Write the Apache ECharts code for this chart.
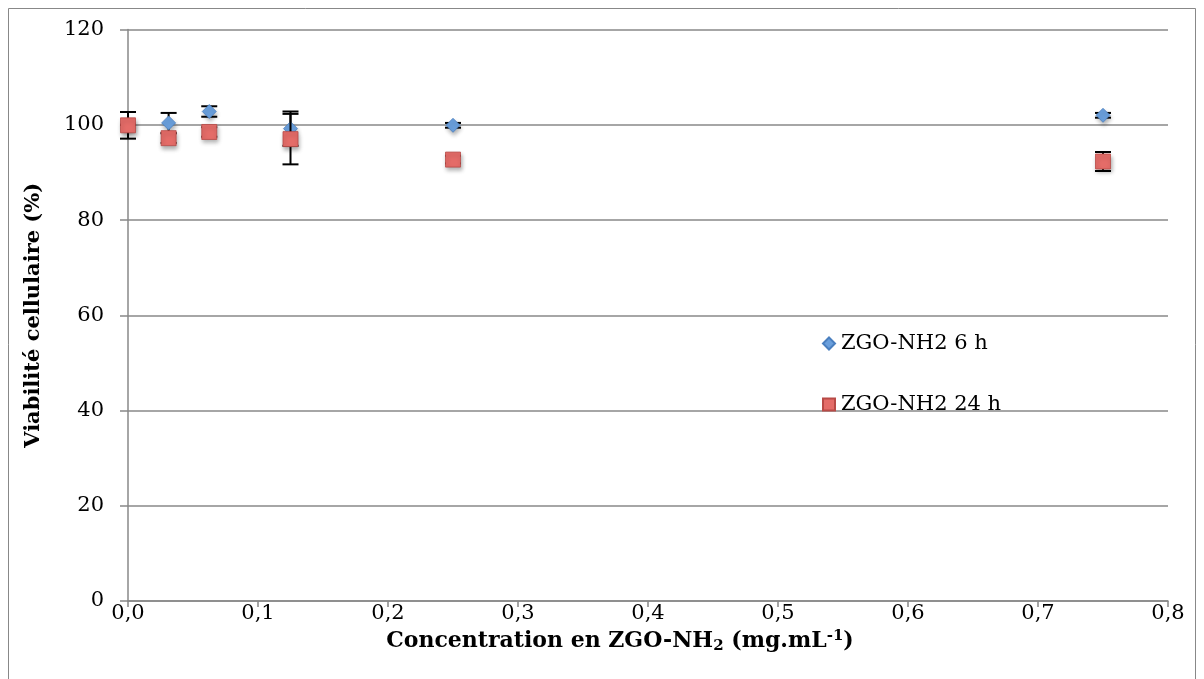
<!DOCTYPE html>
<html><head><meta charset="utf-8">
<script src="https://cdn.jsdelivr.net/npm/echarts@6/dist/echarts.min.js"></script>
<style>html,body{margin:0;padding:0;background:#fff}#c{width:1204px;height:679px}</style>
</head><body><div id="c"></div>
<script>
var concentrations = [0, 0.03125, 0.0625, 0.125, 0.25, 0.75];
var viab6h = [100.0, 100.4, 102.8, 99.2, 99.9, 102.0];
var err6h = [0.0, 2.1, 1.1, 3.6, 0.5, 0.5];
var viab24h = [99.9, 97.2, 98.5, 97.0, 92.7, 92.3];
var err24h = [2.8, 1.0, 1.0, 5.3, 0.8, 2.0];
var seriesNames = ['ZGO-NH2 6 h', 'ZGO-NH2 24 h'];

var FONT = 'DejaVu Serif';
function pts(ys) { return concentrations.map(function (x, i) { return [x, ys[i]]; }); }
function errData(ys, es) { return concentrations.map(function (x, i) { return [x, ys[i] - es[i], ys[i] + es[i]]; }); }
function errRender(params, api) {
  var x = api.value(0);
  var lo = api.coord([x, api.value(1)]);
  var hi = api.coord([x, api.value(2)]);
  var hw = 8;
  var st = { stroke: '#000', lineWidth: 2 };
  return { type: 'group', children: [
    { type: 'line', shape: { x1: lo[0], y1: lo[1], x2: hi[0], y2: hi[1] }, style: st },
    { type: 'line', shape: { x1: lo[0] - hw, y1: lo[1], x2: lo[0] + hw, y2: lo[1] }, style: st },
    { type: 'line', shape: { x1: hi[0] - hw, y1: hi[1], x2: hi[0] + hw, y2: hi[1] }, style: st }
  ]};
}
var shadow = { opacity: 1, shadowBlur: 4, shadowOffsetX: 1, shadowOffsetY: 3, shadowColor: 'rgba(0,0,0,0.3)' };

var chart = echarts.init(document.getElementById('c'));
chart.setOption({
  animation: false,
  backgroundColor: '#fff',
  grid: { left: 128, right: 36, top: 29.6, bottom: 78 },
  graphic: [{ type: 'rect', shape: { x: 8.5, y: 8.5, width: 1187, height: 700 }, style: { fill: 'none', stroke: '#888', lineWidth: 1 }, silent: true }],
  legend: {
    orient: 'vertical', left: 817, top: 328, itemGap: 40, itemWidth: 12, itemHeight: 12,
    textStyle: { fontFamily: FONT, fontSize: 21, color: '#000', padding: [0, 0, 0, 1] },
    data: [{ name: seriesNames[0], icon: 'diamond' }, { name: seriesNames[1], icon: 'rect' }]
  },
  xAxis: {
    type: 'value', min: 0, max: 0.8, interval: 0.1,
    name: 'Concentration en ZGO-NH{sub|2} (mg.mL{sup|-1})', nameLocation: 'middle', nameGap: 26,
    nameTextStyle: { fontFamily: FONT, fontSize: 22, fontWeight: 'bold', color: '#000', padding: [0, 56, 0, 0],
      rich: { sub: { fontFamily: FONT, fontSize: 15, fontWeight: 'bold', verticalAlign: 'bottom', padding: [10, 0, 0, 0] },
              sup: { fontFamily: FONT, fontSize: 15, fontWeight: 'bold', verticalAlign: 'top', padding: [0, 0, 8, 0] } } },
    axisLine: { lineStyle: { color: '#888', width: 1.5 } },
    axisTick: { show: true, length: 6, lineStyle: { color: '#888', width: 1.5 } },
    axisLabel: { fontFamily: FONT, fontSize: 21, color: '#000', margin: 2, formatter: function (v) { return v.toFixed(1).replace('.', ','); } },
    splitLine: { show: false }
  },
  yAxis: {
    type: 'value', min: 0, max: 120, interval: 20,
    name: 'Viabilité cellulaire (%)', nameLocation: 'middle', nameGap: 84, nameRotate: 90,
    nameTextStyle: { fontFamily: FONT, fontSize: 21, fontWeight: 'bold', color: '#000' },
    axisLine: { show: true, lineStyle: { color: '#888', width: 1.5 } },
    axisTick: { show: true, length: 8, lineStyle: { color: '#888', width: 1.5 } },
    axisLabel: { fontFamily: FONT, fontSize: 21, color: '#000', margin: 24 },
    splitLine: { show: true, lineStyle: { color: '#888', width: 1.5 } }
  },
  series: [
    { type: 'custom', name: 'err6', renderItem: errRender, data: errData(viab6h, err6h), z: 2, encode: { x: 0, y: [1, 2] } },
    { type: 'scatter', name: seriesNames[0], symbol: 'diamond', symbolSize: [14, 14], data: pts(viab6h), z: 3,
      itemStyle: Object.assign({ color: '#6a9fdc', borderColor: '#4a7fbf', borderWidth: 0.8 }, shadow) },
    { type: 'custom', name: 'err24', renderItem: errRender, data: errData(viab24h, err24h), z: 4, encode: { x: 0, y: [1, 2] } },
    { type: 'scatter', name: seriesNames[1], symbol: 'rect', symbolSize: [15, 15], data: pts(viab24h), z: 5,
      itemStyle: Object.assign({ color: '#e46c68', borderColor: '#b84a46', borderWidth: 0.8 }, shadow) }
  ]
});
</script></body></html>
